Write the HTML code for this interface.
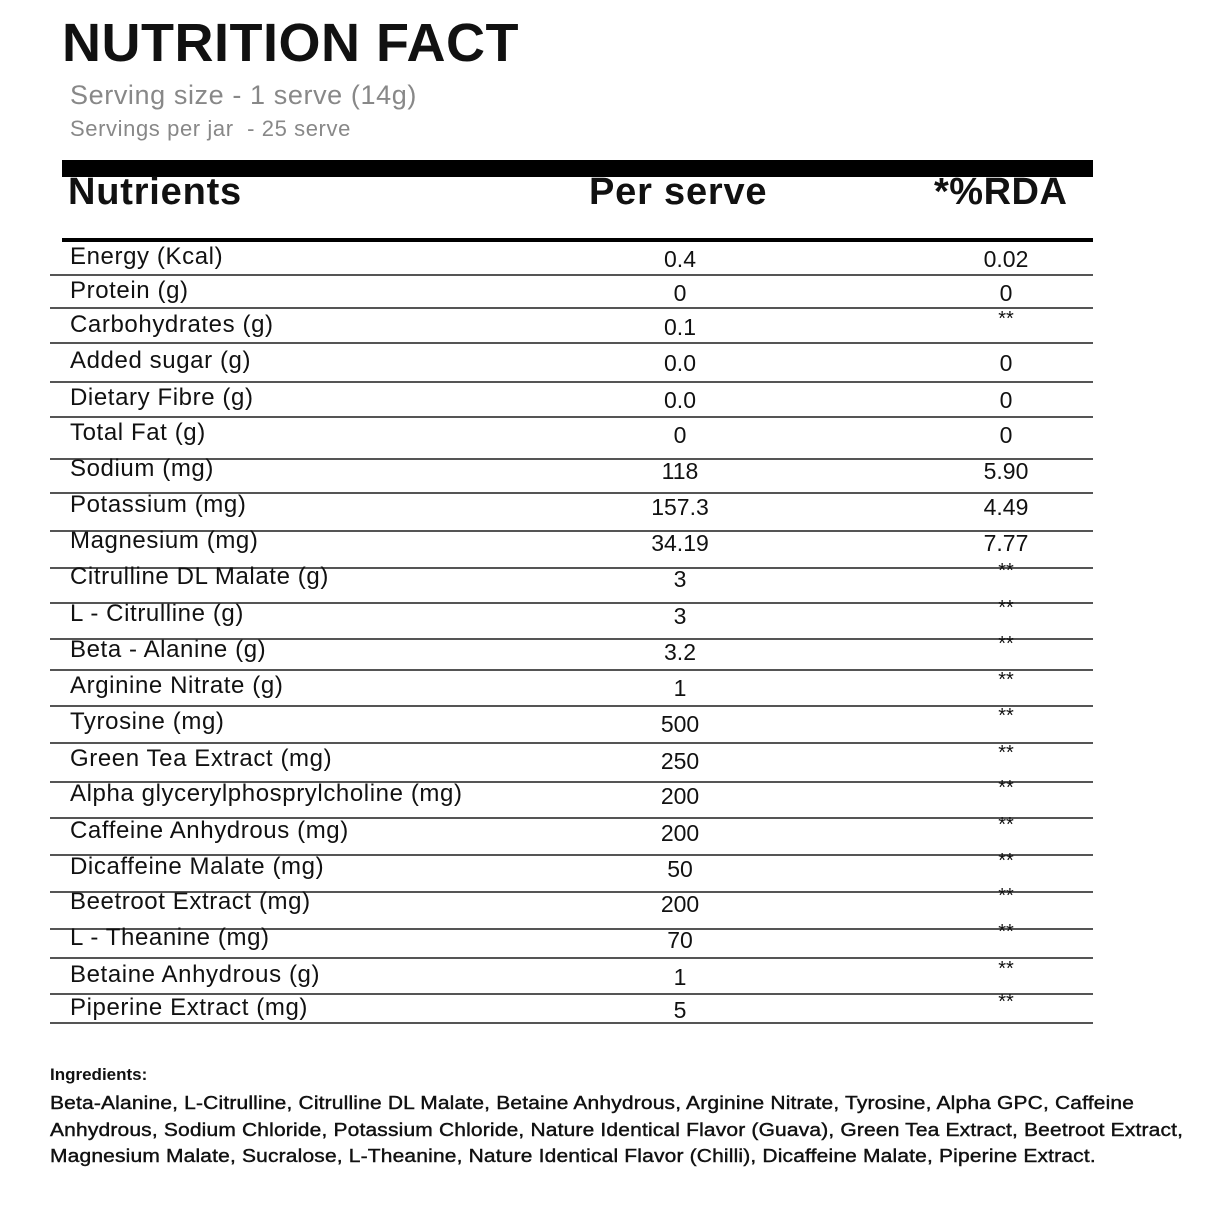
<!DOCTYPE html>
<html><head><style>
body{margin:0;width:1215px;height:1215px;background:#fff;position:relative;font-family:"Liberation Sans",sans-serif;color:#111;overflow:hidden}
.a{position:absolute;white-space:nowrap}
.l{position:absolute;left:50px;width:1043px;height:1.5px;background:#555}
.n{font-size:24px;letter-spacing:0.6px}
.c{font-size:23px;transform:translateX(-50%)}
.s{font-size:20px;transform:translateX(-50%)}
</style></head><body>
<div class="a" style="left:62px;top:12px;font-size:54px;font-weight:bold;letter-spacing:0.5px">NUTRITION FACT</div>
<div class="a" style="left:70px;top:80px;font-size:27px;color:#888;letter-spacing:0.6px">Serving size - 1 serve (14g)</div>
<div class="a" style="left:70px;top:116px;font-size:22px;color:#888;letter-spacing:0.6px">Servings per jar&nbsp; - 25 serve</div>
<div style="position:absolute;left:62px;top:160px;width:1031px;height:17px;background:#000"></div>
<div class="a" style="left:68px;top:171px;font-size:38px;font-weight:bold;letter-spacing:0.8px">Nutrients</div>
<div class="a" style="left:589px;top:171px;font-size:38px;font-weight:bold;letter-spacing:0.8px">Per serve</div>
<div class="a" style="left:934px;top:171px;font-size:38px;font-weight:bold;letter-spacing:0.5px">*%RDA</div>
<div style="position:absolute;left:62px;top:238px;width:1031px;height:4px;background:#000"></div>
<div id="rows"></div>
<div class="a" style="left:50px;top:1065px;font-size:17px;font-weight:bold">Ingredients:</div>
<div class="a" style="left:50px;top:1090px;font-size:18px;line-height:26.5px;-webkit-text-stroke:0.4px #111;letter-spacing:0.15px;transform:scaleX(1.165);transform-origin:0 0">Beta-Alanine, L-Citrulline, Citrulline DL Malate, Betaine Anhydrous, Arginine Nitrate, Tyrosine, Alpha GPC, Caffeine<br>Anhydrous, Sodium Chloride, Potassium Chloride, Nature Identical Flavor (Guava), Green Tea Extract, Beetroot Extract,<br>Magnesium Malate, Sucralose, L-Theanine, Nature Identical Flavor (Chilli), Dicaffeine Malate, Piperine Extract.</div>
<script>
var d=[["Energy (Kcal)","0.4","0.02",246,274],["Protein (g)","0","0",280,307],["Carbohydrates (g)","0.1","**",314,342],["Added sugar (g)","0.0","0",350,381],["Dietary Fibre (g)","0.0","0",387,416],["Total Fat (g)","0","0",422,458],["Sodium (mg)","118","5.90",458,492],["Potassium (mg)","157.3","4.49",494,530],["Magnesium (mg)","34.19","7.77",530,567],["Citrulline DL Malate (g)","3","**",566,602],["L - Citrulline (g)","3","**",603,638],["Beta - Alanine (g)","3.2","**",639,669],["Arginine Nitrate (g)","1","**",675,705],["Tyrosine (mg)","500","**",711,742],["Green Tea Extract (mg)","250","**",748,781],["Alpha glycerylphosprylcholine (mg)","200","**",783,817],["Caffeine Anhydrous (mg)","200","**",820,854],["Dicaffeine Malate (mg)","50","**",856,891],["Beetroot Extract (mg)","200","**",891,928],["L - Theanine (mg)","70","**",927,957],["Betaine Anhydrous (g)","1","**",964,993],["Piperine Extract (mg)","5","**",997,1022]];
var h="";d.forEach(function(r){var t=r[3];h+='<div class="a n" style="left:70px;top:'+(t-3)+'px">'+r[0]+'</div>';h+='<div class="a c" style="left:680px;top:'+t+'px">'+r[1]+'</div>';h+=r[2]=="**"?'<div class="a s" style="left:1006px;top:'+(t-6)+'px">**</div>':'<div class="a c" style="left:1006px;top:'+t+'px">'+r[2]+'</div>';h+='<div class="l" style="top:'+r[4]+'px"></div>';});
document.getElementById("rows").innerHTML=h;
</script>
</body></html>
